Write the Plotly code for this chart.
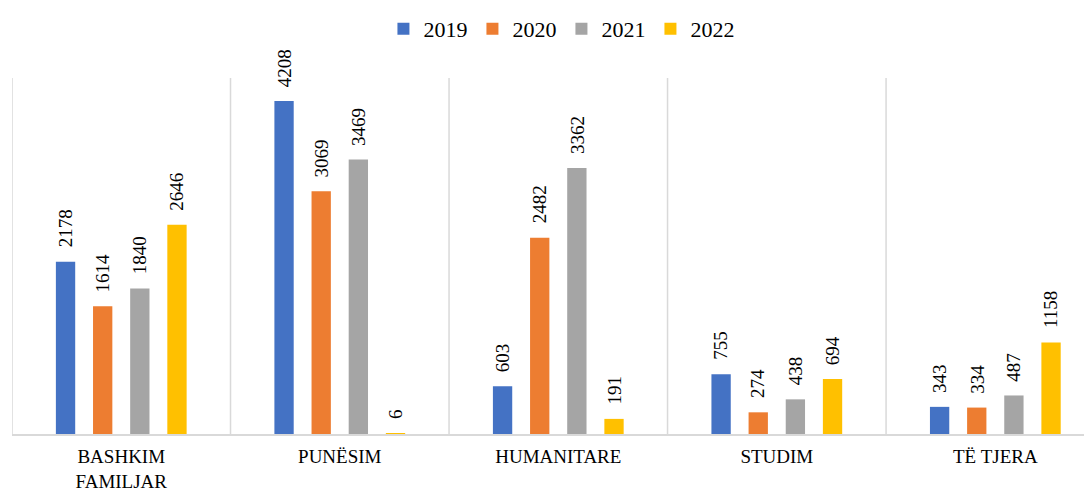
import plotly.graph_objects as go

# kategoritë dhe vlerat sipas viteve
categories = ["BASHKIM<br>FAMILJAR", "PUNËSIM", "HUMANITARE", "STUDIM", "TË TJERA"]
years = ["2019", "2020", "2021", "2022"]
v2019 = [2178, 4208, 603, 755, 343]
v2020 = [1614, 3069, 2482, 274, 334]
v2021 = [1840, 3469, 3362, 438, 487]
v2022 = [2646, 6, 191, 694, 1158]
colors = ["#4472C4", "#ED7D31", "#A5A5A5", "#FFC000"]

FONT = "Liberation Serif, Times New Roman, serif"
BARGAP = 0.32
GROUPGAP = 0.48

fig = go.Figure()
series = [v2019, v2020, v2021, v2022]
for name, vals, col in zip(years, series, colors):
    fig.add_trace(go.Bar(
        x=categories,
        y=vals,
        name=name,
        marker=dict(color=col, line=dict(width=0)),
    ))

# etiketat e vlerave (vertikale, pak mbi shtyllat)
slot = (1 - BARGAP) / len(series)
for k, vals in enumerate(series):
    off = (k - (len(series) - 1) / 2) * slot
    for i, v in enumerate(vals):
        fig.add_annotation(
            x=i + off, y=v, xref="x", yref="y",
            text=str(v), textangle=-90,
            showarrow=False, xanchor="center", yanchor="bottom",
            yshift=12,
            font=dict(family=FONT, size=19, color="#000000"),
        )

# vijat ndarëse midis kategorive
for i in range(len(categories)):
    fig.add_shape(type="line", xref="x", yref="y",
                  x0=i - 0.5, x1=i - 0.5, y0=0, y1=4500,
                  line=dict(color="#D9D9D9", width=1.5), layer="below")

fig.update_layout(
    width=1092,
    height=494,
    paper_bgcolor="white",
    plot_bgcolor="white",
    barmode="group",
    bargap=BARGAP,
    bargroupgap=GROUPGAP,
    margin=dict(l=4, r=0, t=70, b=68, autoexpand=False),
    font=dict(family=FONT, size=18, color="#000000"),
    showlegend=True,
    legend=dict(
        orientation="h",
        x=0.505, xanchor="center",
        y=1.0, yanchor="top",
        yref="container",
        font=dict(family=FONT, size=22),
        itemwidth=30,
        traceorder="normal",
    ),
)

fig.update_xaxes(
    type="category",
    range=[-0.5, 4.479],
    automargin=False,
    showgrid=False,
    showline=True,
    linecolor="#D9D9D9",
    linewidth=2,
    ticks="",
    ticklabelstandoff=4,
    tickfont=dict(family=FONT, size=19),
)
fig.update_yaxes(
    range=[0, 4500],
    automargin=False,
    showgrid=False,
    showticklabels=False,
    zeroline=False,
    showline=False,
    ticks="",
)

fig.write_html("out.html")
